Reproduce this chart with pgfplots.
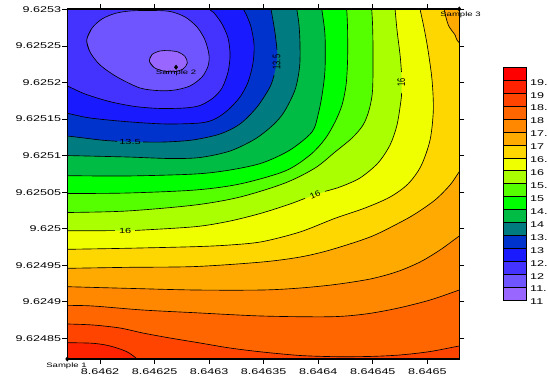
\documentclass[border=0pt]{standalone}
\usepackage{pgfplots}
\pgfplotsset{compat=1.18}
\usepackage{graphicx}
\usepackage{fontspec}
\setmainfont{Liberation Sans}
\newcommand{\sx}[1]{\scalebox{1.5}[1]{#1}}
\newcommand{\sy}[1]{\scalebox{1}[1.5]{#1}}
\definecolor{b1}{HTML}{9966FF}
\definecolor{b2}{HTML}{6F55FF}
\definecolor{b3}{HTML}{4433FF}
\definecolor{b4}{HTML}{1A1AFF}
\definecolor{b5}{HTML}{0033CC}
\definecolor{b6}{HTML}{007B80}
\definecolor{b7}{HTML}{00BB44}
\definecolor{b8}{HTML}{00FF00}
\definecolor{b9}{HTML}{55FF00}
\definecolor{b10}{HTML}{AAFF00}
\definecolor{b11}{HTML}{F0FF00}
\definecolor{b12}{HTML}{FFD700}
\definecolor{b13}{HTML}{FFAA00}
\definecolor{b14}{HTML}{FF8800}
\definecolor{b15}{HTML}{FF6600}
\definecolor{b16}{HTML}{FF4400}
\definecolor{b17}{HTML}{FF2200}
\definecolor{b18}{HTML}{FF0000}
\pgfplotsset{
  cl/.style={black, line width=0.65pt, smooth, mark=none},
  cf/.style={fill=#1, draw=none, smooth, mark=none},
}
\begin{document}
\begin{tikzpicture}
\useasboundingbox (0,0) rectangle (548bp,377bp);
\begin{axis}[
  at={(67.3bp,18bp)}, anchor=south west, scale only axis,
  width=392bp, height=350bp,
  xmin=-3, xmax=32.93, ymin=2.17, ymax=50.06,
  clip mode=individual,
  axis background/.style={fill=b3},
  axis on top,
  axis line style={line width=1.1pt},
  tick align=outside, major tick length=5bp,
  tick style={black, line width=0.8pt},
  xtick={0,5,...,30}, ytick={5,10,...,50},
  xticklabels={\sx{8.6462},\sx{8.64625},\sx{8.6463},\sx{8.64635},\sx{8.6464},\sx{8.64645},\sx{8.6465}},
  yticklabels={\sx{9.62485},\sx{9.6249},\sx{9.62495},\sx{9.625},\sx{9.62505},\sx{9.6251},\sx{9.62515},\sx{9.6252},\sx{9.62525},\sx{9.6253}},
  tick label style={font=\fontsize{8.4}{10}\selectfont},
  xticklabel style={inner sep=1.5bp, yshift=-3bp},
  yticklabel style={inner sep=1bp},
]
% ---- filled bands (painted from low to high) ----
\addplot[cf=b2] coordinates {(-0.92,44.18) (-1.22,45.82) (-0.73,47.46) (0.18,48.69) (1.37,49.45) (2.75,49.79) (4.58,49.86) (6.42,49.72) (7.79,48.97) (8.89,47.60) (9.62,45.82) (9.99,43.77) (9.90,42.26) (9.35,40.76) (8.25,39.53) (6.87,38.98) (5.50,38.88) (3.67,39.25) (1.56,40.76) (0,42.40) (-0.92,44.18) (-1.22,45.82) (-0.73,47.46)} -- cycle;
\addplot[cf=b1] coordinates {(4.95,42.06) (4.52,42.95) (4.77,43.84) (5.50,44.32) (6.26,44.36) (7.15,44.18) (7.79,43.56) (8.00,42.67) (7.61,41.85) (6.78,41.48) (5.77,41.58) (4.95,42.06) (4.52,42.95) (4.77,43.84)} -- cycle;
\addplot[cf=b4] coordinates {(-5,40.8) (-3,39.53) (-1.37,38.43) (0.92,37.38) (3.21,36.72) (5.50,36.45) (7.79,36.52) (9.17,36.86) (10.36,37.88) (11.18,39.25) (11.73,41.44) (11.92,43.77) (11.73,46.09) (11.18,48.01) (10.45,49.52) (9.99,50.06) (9.0,52) (36,53) (36,-1) (-6,-1)} -- cycle;
\addplot[cf=b5] coordinates {(-5,36.4) (-3,35.79) (-0.92,35.15) (2.47,34.64) (5.96,34.33) (9.17,34.46) (10.54,35.01) (11.73,36.24) (12.83,38.02) (13.57,40.07) (14.02,42.67) (14.12,45.14) (13.84,47.60) (13.38,49.38) (13.13,50.06) (12.7,52) (36,53) (36,-1) (-6,-1)} -- cycle;
\addplot[cf=b6] coordinates {(-5,32.9) (-3,32.68) (0,32.14) (2.75,31.90) (5.96,31.86) (8.52,32.14) (11.00,32.96) (12.83,34.33) (14.39,36.65) (15.58,39.39) (16.13,42.13) (16.25,44.04) (16.04,46.78) (15.67,50.06) (15.4,52) (36,53) (36,-1) (-6,-1)} -- cycle;
\addplot[cf=b7] coordinates {(-5,30.1) (-3,30.01) (2.47,29.81) (6.42,29.60) (9.17,29.74) (11.92,30.63) (14.21,32.27) (15.86,34.19) (16.87,35.97) (17.87,38.98) (18.29,42.13) (18.33,45.14) (18.24,47.87) (18.03,50.06) (17.8,52) (36,53) (36,-1) (-6,-1)} -- cycle;
\addplot[cf=b8] coordinates {(-5,27.25) (-3,27.25) (2.47,27.21) (8.71,27.48) (11.92,28.03) (14.85,28.99) (17.42,30.77) (19.43,33.23) (19.98,35.56) (20.35,38.29) (20.62,41.72) (20.62,46.51) (20.32,50.06) (20.1,52) (36,53) (36,-1) (-6,-1)} -- cycle;
\addplot[cf=b9] coordinates {(-5,24.8) (-3,24.81) (2.47,24.88) (8.71,25.29) (12.83,26.12) (16.96,27.89) (19.25,30.08) (20.62,32.27) (21.54,34.60) (22.18,36.92) (22.55,39.66) (22.69,43.08) (22.69,47.19) (22.61,50.06) (22.5,52) (36,53) (36,-1) (-6,-1)} -- cycle;
\addplot[cf=b10] coordinates {(-5,22.2) (-3,22.21) (2.47,22.42) (8.71,23.24) (12.83,24.33) (16.96,26.25) (19.71,28.30) (21.54,30.49) (23.10,32.41) (24.11,34.19) (24.66,36.24) (24.98,38.98) (25.02,44.45) (24.98,47.87) (24.90,50.06) (24.8,52) (36,53) (36,-1) (-6,-1)} -- cycle;
\addplot[cf=b11] coordinates {(-5,19.72) (-3,19.72) (2.47,19.75) (8.71,20.27) (11.92,21.05) (14.85,22.15) (17.42,23.38) (19.71,24.61) (22.00,25.71) (23.83,26.94) (25.48,28.99) (26.58,31.45) (27.22,34.19) (27.59,37.61) (27.65,40.07) (27.50,43.77) (27.22,47.19) (27.04,50.06) (26.9,52) (36,53) (36,-1) (-6,-1)} -- cycle;
\addplot[cf=b12] coordinates {(-5,17.18) (-3,17.18) (2.47,17.32) (8.71,17.54) (11.92,17.77) (14.85,18.22) (18.33,19.55) (21.54,21.42) (24.29,22.83) (26.58,24.33) (28.23,26.12) (29.42,28.58) (30.25,32.14) (30.55,36.24) (30.43,40.35) (30.06,44.45) (29.70,47.46) (29.33,50.06) (29.1,52) (36,53) (36,-1) (-6,-1)} -- cycle;
\addplot[cf=b13] coordinates {(31.3,52) (31.53,50.06) (31.92,47.87) (32.54,46.51) (32.93,45.45) (35,43.5) (36,53)} -- cycle;
\addplot[cf=b13] coordinates {(34.5,31.2) (32.93,27.80) (32.08,25.98) (30.71,23.93) (28.87,22.01) (27.22,20.64) (24.75,18.86) (21.08,17.08) (18.33,16.12) (14.85,15.44) (8.71,14.82) (2.47,14.71) (-3,14.58) (-5,14.58) (-6,-1) (36,-1)} -- cycle;
\addplot[cf=b14] coordinates {(35,21.2) (32.93,19.00) (31.16,17.08) (29.33,15.44) (27.22,14.11) (24.75,13.11) (21.54,12.36) (18.33,11.88) (14.85,11.61) (8.71,11.61) (2.47,11.84) (-3,12.06) (-5,12.1) (-6,-1) (36,-1)} -- cycle;
\addplot[cf=b15] coordinates {(35,12.7) (32.93,11.61) (30.25,10.24) (27.22,9.10) (24.29,8.32) (21.08,7.95) (14.85,8.05) (8.71,8.50) (3.94,8.87) (-0.64,9.42) (-3,9.51) (-5,9.55) (-6,-1) (36,-1)} -- cycle;
\addplot[cf=b16] coordinates {(35,4.5) (32.93,3.95) (30.25,3.19) (27.50,2.72) (24.75,2.52) (21.54,2.49) (18.33,2.65) (14.85,3.13) (11.92,3.67) (9.17,4.36) (6.42,5.04) (3.94,5.72) (1.83,6.41) (-0.64,6.82) (-3,6.96) (-5,7.0) (-6,-1) (36,-1)} -- cycle;
\addplot[cf=b17] coordinates {(-5,4.45) (-3,4.40) (-0.64,4.32) (0.92,3.95) (2.45,3.17) (3.39,2.17) (4.1,1.0) (-6,-1)} -- cycle;
% ---- contour lines ----
\addplot[cl] coordinates {(4.95,42.06) (4.52,42.95) (4.77,43.84) (5.50,44.32) (6.26,44.36) (7.15,44.18) (7.79,43.56) (8.00,42.67) (7.61,41.85) (6.78,41.48) (5.77,41.58) (4.95,42.06) (4.52,42.95) (4.77,43.84)};
\addplot[cl] coordinates {(-0.92,44.18) (-1.22,45.82) (-0.73,47.46) (0.18,48.69) (1.37,49.45) (2.75,49.79) (4.58,49.86) (6.42,49.72) (7.79,48.97) (8.89,47.60) (9.62,45.82) (9.99,43.77) (9.90,42.26) (9.35,40.76) (8.25,39.53) (6.87,38.98) (5.50,38.88) (3.67,39.25) (1.56,40.76) (0,42.40) (-0.92,44.18) (-1.22,45.82) (-0.73,47.46)};
\addplot[cl] coordinates {(-5,40.8) (-3,39.53) (-1.37,38.43) (0.92,37.38) (3.21,36.72) (5.50,36.45) (7.79,36.52) (9.17,36.86) (10.36,37.88) (11.18,39.25) (11.73,41.44) (11.92,43.77) (11.73,46.09) (11.18,48.01) (10.45,49.52) (9.99,50.06) (9.0,52)};
\addplot[cl] coordinates {(-5,36.4) (-3,35.79) (-0.92,35.15) (2.47,34.64) (5.96,34.33) (9.17,34.46) (10.54,35.01) (11.73,36.24) (12.83,38.02) (13.57,40.07) (14.02,42.67) (14.12,45.14) (13.84,47.60) (13.38,49.38) (13.13,50.06) (12.7,52)};
% 13.5 in three pieces around its labels
\addplot[cl] coordinates {(-5,32.9) (-3,32.68) (0,32.14) (1.56,31.96)};
\addplot[cl] coordinates {(3.94,31.86) (5.96,31.86) (8.52,32.14) (11.00,32.96) (12.83,34.33) (14.39,36.65) (15.58,39.39) (15.95,41.03)};
\addplot[cl] coordinates {(16.22,44.45) (16.04,46.78) (15.67,50.06) (15.4,52)};
\addplot[cl] coordinates {(-5,30.1) (-3,30.01) (2.47,29.81) (6.42,29.60) (9.17,29.74) (11.92,30.63) (14.21,32.27) (15.86,34.19) (16.87,35.97) (17.87,38.98) (18.29,42.13) (18.33,45.14) (18.24,47.87) (18.03,50.06) (17.8,52)};
\addplot[cl] coordinates {(-5,27.25) (-3,27.25) (2.47,27.21) (8.71,27.48) (11.92,28.03) (14.85,28.99) (17.42,30.77) (19.43,33.23) (19.98,35.56) (20.35,38.29) (20.62,41.72) (20.62,46.51) (20.32,50.06) (20.1,52)};
\addplot[cl] coordinates {(-5,24.8) (-3,24.81) (2.47,24.88) (8.71,25.29) (12.83,26.12) (16.96,27.89) (19.25,30.08) (20.62,32.27) (21.54,34.60) (22.18,36.92) (22.55,39.66) (22.69,43.08) (22.69,47.19) (22.61,50.06) (22.5,52)};
\addplot[cl] coordinates {(-5,22.2) (-3,22.21) (2.47,22.42) (8.71,23.24) (12.83,24.33) (16.96,26.25) (19.71,28.30) (21.54,30.49) (23.10,32.41) (24.11,34.19) (24.66,36.24) (24.98,38.98) (25.02,44.45) (24.98,47.87) (24.90,50.06) (24.8,52)};
% 16 in four pieces around its labels
\addplot[cl] coordinates {(-5,19.72) (-3,19.72) (1.37,19.73)};
\addplot[cl] coordinates {(3.21,19.76) (8.71,20.27) (11.92,21.05) (14.85,22.15) (17.42,23.38) (18.79,24.16)};
\addplot[cl] coordinates {(20.62,25.11) (22.00,25.71) (23.83,26.94) (25.48,28.99) (26.58,31.45) (27.22,34.19) (27.59,37.61) (27.64,38.57)};
\addplot[cl] coordinates {(27.63,41.44) (27.50,43.77) (27.22,47.19) (27.04,50.06) (26.9,52)};
\addplot[cl] coordinates {(-5,17.18) (-3,17.18) (2.47,17.32) (8.71,17.54) (11.92,17.77) (14.85,18.22) (18.33,19.55) (21.54,21.42) (24.29,22.83) (26.58,24.33) (28.23,26.12) (29.42,28.58) (30.25,32.14) (30.55,36.24) (30.43,40.35) (30.06,44.45) (29.70,47.46) (29.33,50.06) (29.1,52)};
\addplot[cl] coordinates {(31.3,52) (31.53,50.06) (31.92,47.87) (32.54,46.51) (32.93,45.45) (35,43.5)};
\addplot[cl] coordinates {(34.5,31.2) (32.93,27.80) (32.08,25.98) (30.71,23.93) (28.87,22.01) (27.22,20.64) (24.75,18.86) (21.08,17.08) (18.33,16.12) (14.85,15.44) (8.71,14.82) (2.47,14.71) (-3,14.58) (-5,14.58)};
\addplot[cl] coordinates {(35,21.2) (32.93,19.00) (31.16,17.08) (29.33,15.44) (27.22,14.11) (24.75,13.11) (21.54,12.36) (18.33,11.88) (14.85,11.61) (8.71,11.61) (2.47,11.84) (-3,12.06) (-5,12.1)};
\addplot[cl] coordinates {(35,12.7) (32.93,11.61) (30.25,10.24) (27.22,9.10) (24.29,8.32) (21.08,7.95) (14.85,8.05) (8.71,8.50) (3.94,8.87) (-0.64,9.42) (-3,9.51) (-5,9.55)};
\addplot[cl] coordinates {(35,4.5) (32.93,3.95) (30.25,3.19) (27.50,2.72) (24.75,2.52) (21.54,2.49) (18.33,2.65) (14.85,3.13) (11.92,3.67) (9.17,4.36) (6.42,5.04) (3.94,5.72) (1.83,6.41) (-0.64,6.82) (-3,6.96) (-5,7.0)};
\addplot[cl] coordinates {(-5,4.45) (-3,4.40) (-0.64,4.32) (0.92,3.95) (2.45,3.17) (3.39,2.17) (4.1,1.0)};
% ---- contour labels ----
\node[font=\fontsize{7.4}{8}\selectfont, inner sep=0pt] at (axis cs:2.75,31.90) {\sx{13.5}};
\node[font=\fontsize{7.4}{8}\selectfont, inner sep=0pt, rotate=90] at (axis cs:16.18,42.8) {\sy{13.5}};
\node[font=\fontsize{7.4}{8}\selectfont, inner sep=0pt] at (axis cs:2.31,19.71) {\sx{16}};
\node[font=\fontsize{7.4}{8}\selectfont, inner sep=0pt, rotate=25] at (axis cs:19.71,24.60) {\scalebox{1.3}[1.1]{16}};
\node[font=\fontsize{7.4}{8}\selectfont, inner sep=0pt, rotate=90] at (axis cs:27.62,40.05) {\sy{16}};
% ---- samples ----
\addplot[only marks, mark=diamond*, mark size=2.2bp, black, clip=false] coordinates {(-3,2.17) (6.97,42.09) (32.93,50.06)};
\node[font=\fontsize{6.4}{7}\selectfont, inner sep=0pt] at (axis cs:6.97,41.35) {\sx{Sample 2}};
\node[font=\fontsize{6.4}{7}\selectfont, inner sep=0pt] at (axis cs:33.04,49.31) {\sx{Sample 3}};
\node[font=\fontsize{6.4}{7}\selectfont, inner sep=0pt] at (axis cs:-3.07,1.20) {\sx{Sample 1}};
\end{axis}
% ---- colour scale ----
\begin{axis}[
  at={(503.3bp,77bp)}, anchor=south west, scale only axis,
  width=23.4bp, height=232.7bp,
  xmin=0, xmax=1, ymin=11, ymax=20,
  xtick=\empty, ytick={11,11.5,...,19.5},
  yticklabels={\sx{11},\sx{11.},\sx{12},\sx{12.},\sx{13},\sx{13.},\sx{14},\sx{14.},\sx{15},\sx{15.},\sx{16},\sx{16.},\sx{17},\sx{17.},\sx{18},\sx{18.},\sx{19},\sx{19.}},
  yticklabel pos=right, major tick length=0pt, ytick style={draw=none},
  axis line style={line width=1pt},
  yticklabel style={font=\fontsize{8.4}{10}\selectfont, anchor=west, inner sep=0pt, xshift=3.3bp, yshift=-2bp},
  axis on top,
]
\addplot[fill=b1, draw=black, line width=0.5pt] coordinates {(0,11) (1,11) (1,11.5) (0,11.5)} -- cycle;
\addplot[fill=b2, draw=black, line width=0.5pt] coordinates {(0,11.5) (1,11.5) (1,12) (0,12)} -- cycle;
\addplot[fill=b3, draw=black, line width=0.5pt] coordinates {(0,12) (1,12) (1,12.5) (0,12.5)} -- cycle;
\addplot[fill=b4, draw=black, line width=0.5pt] coordinates {(0,12.5) (1,12.5) (1,13) (0,13)} -- cycle;
\addplot[fill=b5, draw=black, line width=0.5pt] coordinates {(0,13) (1,13) (1,13.5) (0,13.5)} -- cycle;
\addplot[fill=b6, draw=black, line width=0.5pt] coordinates {(0,13.5) (1,13.5) (1,14) (0,14)} -- cycle;
\addplot[fill=b7, draw=black, line width=0.5pt] coordinates {(0,14) (1,14) (1,14.5) (0,14.5)} -- cycle;
\addplot[fill=b8, draw=black, line width=0.5pt] coordinates {(0,14.5) (1,14.5) (1,15) (0,15)} -- cycle;
\addplot[fill=b9, draw=black, line width=0.5pt] coordinates {(0,15) (1,15) (1,15.5) (0,15.5)} -- cycle;
\addplot[fill=b10, draw=black, line width=0.5pt] coordinates {(0,15.5) (1,15.5) (1,16) (0,16)} -- cycle;
\addplot[fill=b11, draw=black, line width=0.5pt] coordinates {(0,16) (1,16) (1,16.5) (0,16.5)} -- cycle;
\addplot[fill=b12, draw=black, line width=0.5pt] coordinates {(0,16.5) (1,16.5) (1,17) (0,17)} -- cycle;
\addplot[fill=b13, draw=black, line width=0.5pt] coordinates {(0,17) (1,17) (1,17.5) (0,17.5)} -- cycle;
\addplot[fill=b14, draw=black, line width=0.5pt] coordinates {(0,17.5) (1,17.5) (1,18) (0,18)} -- cycle;
\addplot[fill=b15, draw=black, line width=0.5pt] coordinates {(0,18) (1,18) (1,18.5) (0,18.5)} -- cycle;
\addplot[fill=b16, draw=black, line width=0.5pt] coordinates {(0,18.5) (1,18.5) (1,19) (0,19)} -- cycle;
\addplot[fill=b17, draw=black, line width=0.5pt] coordinates {(0,19) (1,19) (1,19.5) (0,19.5)} -- cycle;
\addplot[fill=b18, draw=black, line width=0.5pt] coordinates {(0,19.5) (1,19.5) (1,20) (0,20)} -- cycle;
\end{axis}
\end{tikzpicture}
\end{document}
